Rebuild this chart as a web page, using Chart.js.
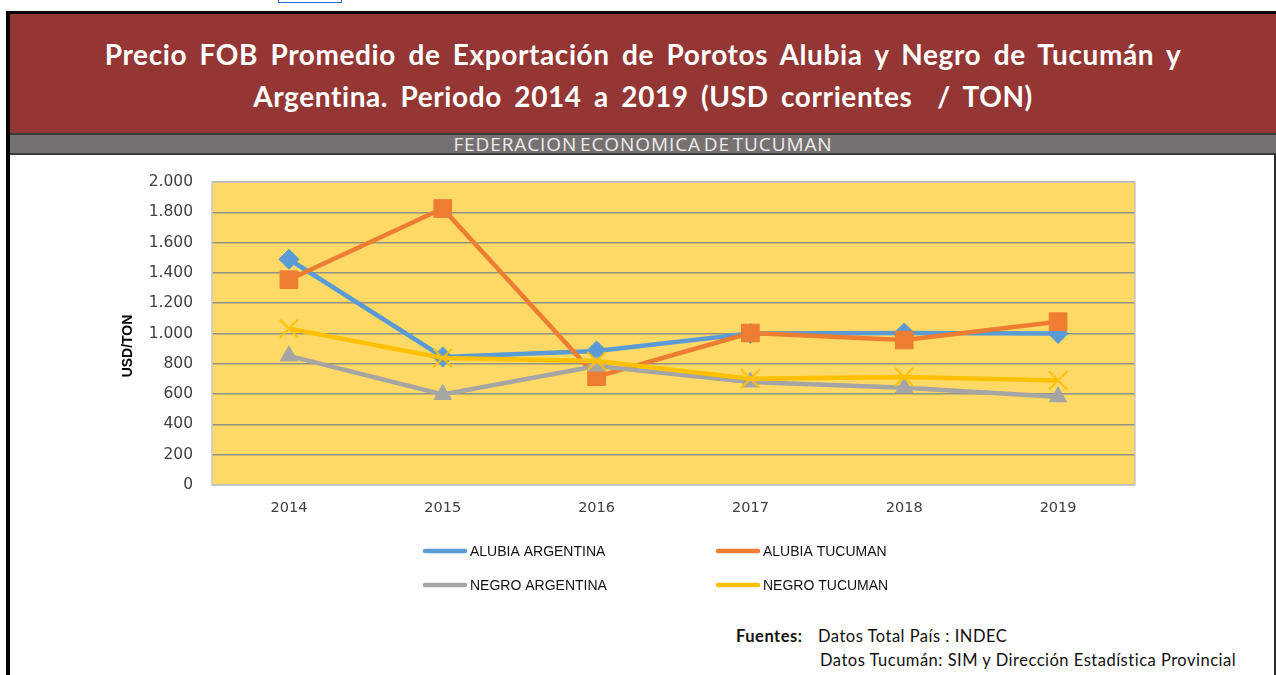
<!DOCTYPE html>
<html>
<head>
<meta charset="utf-8">
<script src="https://cdn.jsdelivr.net/npm/chart.js@4/dist/chart.umd.min.js"></script>
<style>
  html, body { margin:0; padding:0; background:#fff; width:1276px; height:675px; overflow:hidden; }
  .abs { position:absolute; }
  #frame { left:6px; top:11px; width:1270px; height:700px; border-left:4px solid #000; border-top:3px solid #000; box-sizing:border-box; }
  #rframe { left:1274px; top:155px; width:2px; height:520px; background:#2b2b2b; }
  #red { left:10px; top:14px; width:1266px; height:119px; background:#943634; color:#fff;
         font-family:Lato, "Open Sans", sans-serif; font-weight:bold; font-size:28px; text-align:center; line-height:42px; letter-spacing:0.6px; }
  #red div { white-space:nowrap; word-spacing:5px; }
  #gray { left:10px; top:133px; width:1266px; height:22px; background:#767171; border-top:2px solid #3a3a3a; border-bottom:2px solid #3a3a3a; box-sizing:border-box;
          text-align:center; color:#ececec; font-family:"Open Sans", sans-serif; font-size:19px; line-height:18px; }
  #gray span { display:inline-block; letter-spacing:0.9px; word-spacing:-3px; }
  #link { left:278px; top:-4px; width:62px; height:6px; border:1.5px solid #1f6fd0; border-top:none; }
  .foot { font-family:Lato, "Open Sans", sans-serif; font-size:16.5px; letter-spacing:0.5px; color:#111; white-space:nowrap; }
  canvas { position:absolute; left:0; top:0; }
</style>
</head>
<body>
<div id="link" class="abs"></div>
<div id="frame" class="abs"></div>
<div id="rframe" class="abs"></div>
<div id="red" class="abs">
  <div style="margin-top:19px">Precio FOB Promedio de Exportación de Porotos Alubia y Negro de Tucumán y</div>
  <div>Argentina. Periodo 2014 a 2019 (USD corrientes &nbsp;/ TON)</div>
</div>
<div id="gray" class="abs"><span>FEDERACION ECONOMICA DE TUCUMAN</span></div>
<div class="abs foot" style="left:736px; top:626px; font-weight:bold;">Fuentes:</div>
<div class="abs foot" style="left:818px; top:626px;">Datos Total País : INDEC</div>
<div class="abs foot" style="left:820px; top:650px;">Datos Tucumán: SIM y Dirección Estadística Provincial</div>
<canvas id="c" width="1276" height="675"></canvas>
<script>
const years = ['2014', '2015', '2016', '2017', '2018', '2019'];
const seriesNames = ['ALUBIA ARGENTINA', 'ALUBIA TUCUMAN', 'NEGRO ARGENTINA', 'NEGRO TUCUMAN'];
const alubiaArgentina = [1490, 845, 885, 1000, 1003, 1000];
const alubiaTucuman   = [1355, 1825, 715, 1003, 957, 1078];
const negroArgentina  = [852, 598, 785, 680, 642, 582];
const negroTucuman    = [1032, 838, 818, 702, 713, 690];
const yAxisTitle = 'USD/TON';
const yMin = 0, yMax = 2000, yStep = 200;

const plotBg = {
  id: 'plotBg',
  beforeDraw(chart) {
    const a = chart.chartArea, ctx = chart.ctx;
    ctx.save();
    ctx.fillStyle = '#FFD966';
    ctx.fillRect(a.left, a.top, a.right - a.left, a.bottom - a.top);
    ctx.restore();
  },
  afterDatasetsDraw(chart) {
    const a = chart.chartArea, ctx = chart.ctx;
    ctx.save();
    ctx.strokeStyle = '#c8c8c8';
    ctx.lineWidth = 1.5;
    ctx.strokeRect(a.left, a.top, a.right - a.left, a.bottom - a.top);
    ctx.restore();
  }
};

const customLegend = {
  id: 'customLegend',
  afterDraw(chart) {
    const ctx = chart.ctx;
    const cols = [425, 718], rows = [551, 585];
    ctx.save();
    ctx.font = '14px "Liberation Sans", Arial, sans-serif';
    ctx.textBaseline = 'middle';
    ctx.textAlign = 'left';
    chart.data.datasets.forEach((ds, i) => {
      const x = cols[i % 2], y = rows[Math.floor(i / 2)];
      ctx.strokeStyle = ds.borderColor;
      ctx.lineWidth = 4.5;
      ctx.lineCap = 'round';
      ctx.beginPath(); ctx.moveTo(x, y); ctx.lineTo(x + 40, y); ctx.stroke();
      ctx.fillStyle = '#111';
      ctx.fillText(ds.label, x + 45, y + 1);
    });
    // y axis title
    ctx.translate(128, 346);
    ctx.rotate(-Math.PI / 2);
    ctx.textAlign = 'center';
    ctx.fillStyle = '#000';
    ctx.font = 'bold 14px "Liberation Sans", Arial, sans-serif';
    ctx.fillText(yAxisTitle, 0, 0);
    ctx.restore();
  }
};

const fmt = v => String(v).replace(/\B(?=(\d{3})+(?!\d))/g, '.');

new Chart(document.getElementById('c'), {
  type: 'line',
  data: {
    labels: years,
    datasets: [
      { label: seriesNames[0], data: alubiaArgentina, borderColor: '#5B9BD5', backgroundColor: '#5B9BD5',
        pointStyle: 'rectRot', pointRadius: 10, order: 4 },
      { label: seriesNames[1], data: alubiaTucuman, borderColor: '#ED7D31', backgroundColor: '#ED7D31',
        pointStyle: 'rect', pointRadius: 12.5, order: 3 },
      { label: seriesNames[2], data: negroArgentina, borderColor: '#A5A5A5', backgroundColor: '#A5A5A5',
        pointStyle: 'triangle', pointRadius: 10, order: 2 },
      { label: seriesNames[3], data: negroTucuman, borderColor: '#FFC000', backgroundColor: '#FFC000',
        pointStyle: 'crossRot', pointRadius: 13, pointBorderWidth: 2, order: 1 }
    ].map(d => Object.assign({ borderWidth: 4.5, tension: 0, fill: false, pointBorderWidth: d.pointBorderWidth || 1 }, d))
  },
  options: {
    responsive: false,
    devicePixelRatio: 1,
    animation: false,
    layout: { padding: { left: 112, right: 141, top: 182, bottom: 150 } },
    plugins: { legend: { display: false }, tooltip: { enabled: false }, title: { display: false } },
    scales: {
      x: {
        offset: true,
        grid: { display: false, drawTicks: false },
        border: { display: false },
        ticks: { color: '#404040', font: { family: '"DejaVu Sans", sans-serif', size: 14.5 }, padding: 15 },
        afterFit(scale) { scale.height = 40; }
      },
      y: {
        min: yMin, max: yMax,
        grid: { color: '#929283', lineWidth: 1.5, drawTicks: false },
        border: { display: false },
        ticks: { stepSize: yStep, color: '#404040', padding: 19,
                 font: { family: '"DejaVu Sans", sans-serif', size: 15.5 },
                 callback: v => fmt(v) },
        title: { display: false },
        afterFit(scale) { scale.width = 100; }
      }
    }
  },
  plugins: [plotBg, customLegend]
});
</script>
</body>
</html>
